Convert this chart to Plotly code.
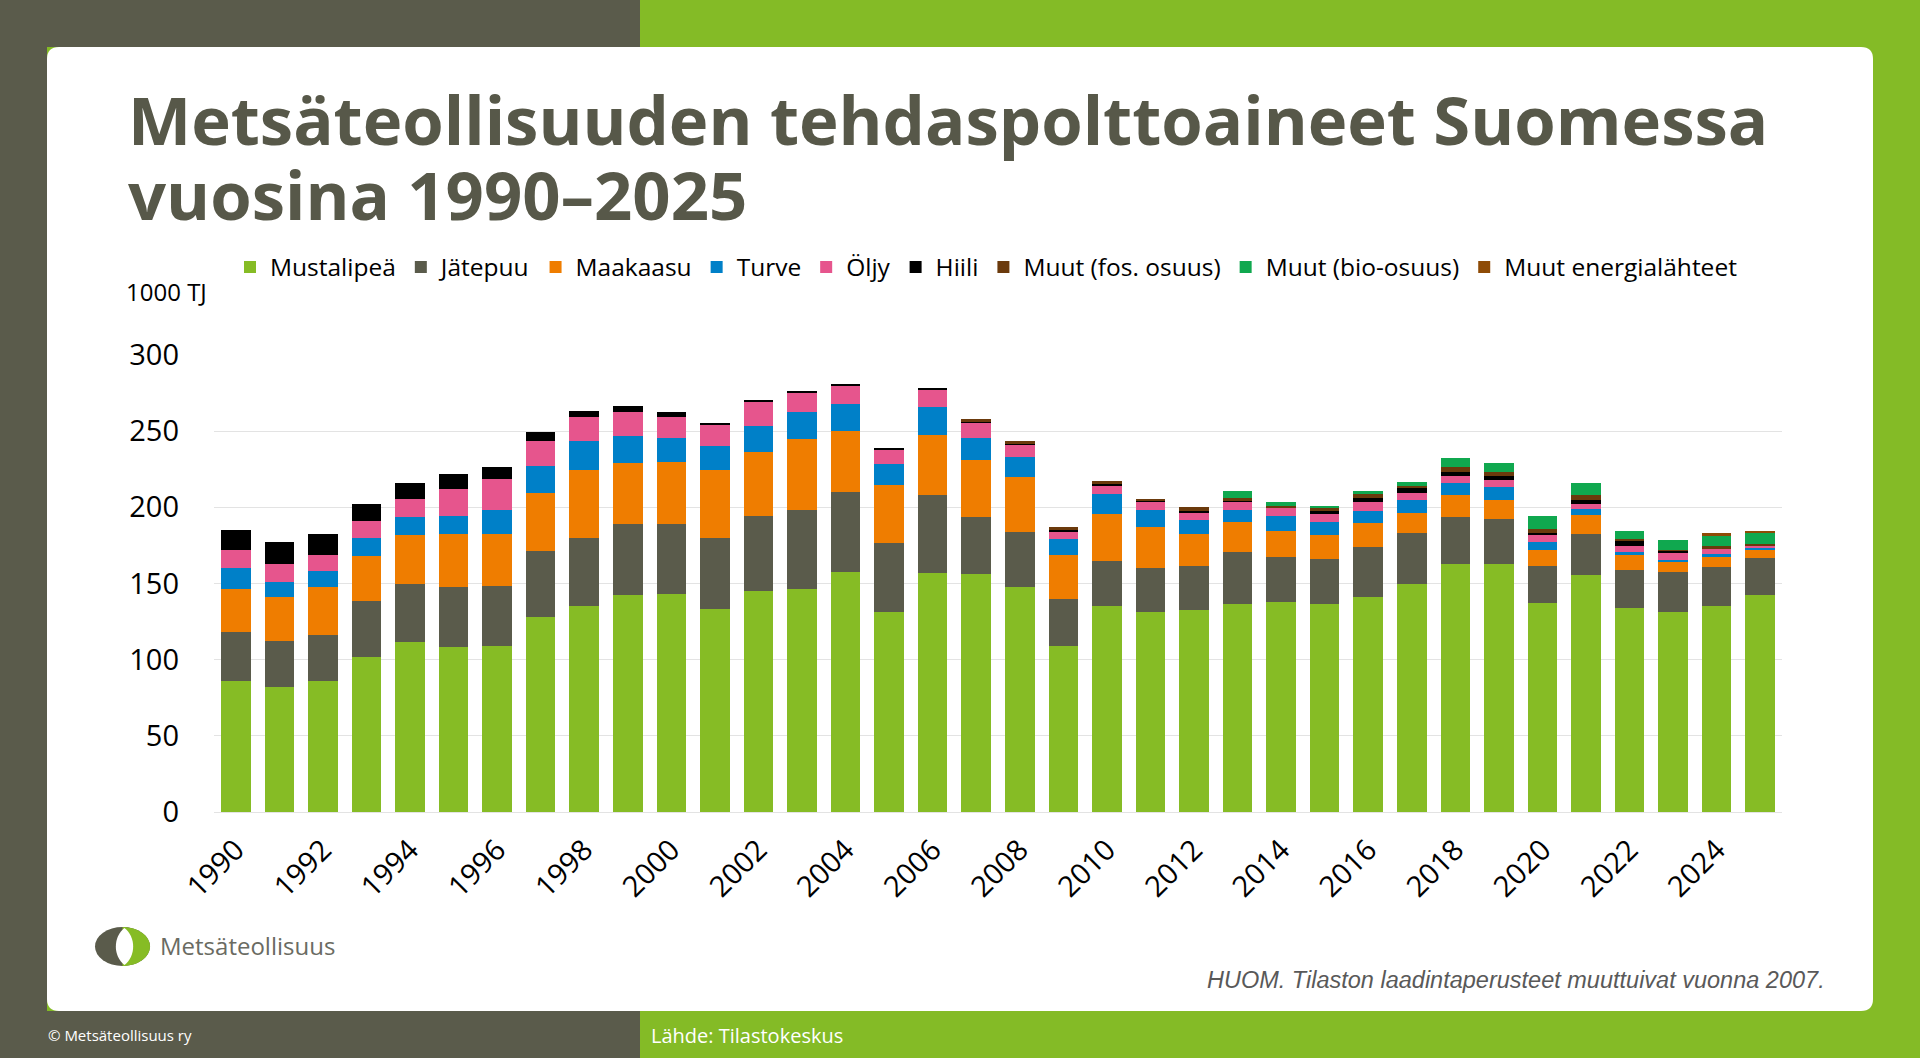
import plotly.graph_objects as go

# ── data (1000 TJ) ─────────────────────────────────────────────────────
YEARS = [str(y) for y in range(1990, 2026)]

MUSTALIPEA = [86.1, 82.2, 86.1, 101.8, 111.6, 108.4, 109.2, 128.2, 135.4, 142.4,
              143.0, 133.2, 145.0, 146.3, 157.4, 131.2, 156.7, 156.1, 147.6, 109.0,
              135.2, 131.2, 132.5, 136.5, 137.8, 136.5, 141.3, 149.6, 162.6, 162.6,
              137.1, 155.4, 133.9, 131.2, 135.2, 142.4]
JATEPUU = [32.3, 30.1, 30.1, 36.6, 38.4, 39.2, 39.0, 42.9, 44.7, 46.4,
           45.8, 46.9, 49.0, 52.1, 52.8, 45.2, 51.7, 37.3, 36.0, 30.7,
           29.4, 28.8, 28.8, 34.0, 29.4, 29.4, 32.5, 33.3, 31.2, 29.9,
           24.2, 27.3, 24.8, 26.2, 25.5, 24.2]
MAAKAASU = [28.3, 28.8, 31.4, 29.9, 32.0, 35.1, 34.5, 38.4, 44.4, 40.5,
            41.2, 44.4, 42.5, 46.6, 40.1, 38.1, 39.3, 37.9, 36.6, 28.8,
            30.7, 26.8, 21.0, 19.8, 17.0, 15.7, 15.7, 13.7, 14.0, 12.6,
            10.5, 12.0, 9.8, 6.5, 6.5, 5.8]
TURVE = [13.3, 9.8, 10.5, 11.3, 11.4, 11.3, 15.3, 17.9, 19.2, 17.5,
         15.7, 16.0, 17.0, 17.9, 17.6, 14.2, 18.3, 14.4, 12.6, 10.5,
         13.3, 11.4, 9.3, 7.9, 9.8, 8.5, 7.8, 7.9, 8.5, 8.5,
         5.2, 3.9, 2.0, 1.6, 2.0, 0.7]
OLJY = [11.8, 11.7, 10.4, 11.2, 12.4, 18.3, 20.9, 16.3, 15.7, 15.9,
        13.7, 13.9, 16.0, 12.4, 12.0, 9.4, 11.3, 10.0, 8.5, 5.4,
        5.9, 5.9, 5.3, 5.9, 5.9, 5.9, 5.9, 5.2, 4.5, 4.6,
        4.6, 3.9, 4.3, 4.5, 3.5, 1.7]
HIILI = [13.5, 14.4, 13.8, 11.1, 10.5, 9.9, 7.8, 5.9, 4.0, 3.7,
         3.3, 1.1, 0.8, 0.5, 1.1, 1.1, 0.4, 0.4, 0.5, 0.4,
         1.0, 0.3, 0.4, 0.3, 0.0, 1.3, 3.2, 2.9, 2.2, 2.2,
         1.5, 2.6, 3.1, 1.4, 0.6, 0.3]
MUUT_FOS = [0] * 17 + [1.8, 1.9, 2.0, 2.1, 1.4, 2.6, 1.8, 0.7, 2.0, 2.2,
                       1.7, 3.3, 3.1, 2.9, 3.3, 1.1, 0.8, 1.1, 0.9]
MUUT_BIO = [0] * 23 + [4.2, 3.2, 1.9, 1.8, 2.6, 5.9, 5.8, 8.0, 7.9, 5.2,
                       6.1, 6.5, 7.2]
MUUT_MUU = [0] * 34 + [2.0, 0.7]

SERIES = [
    ("Mustalipeä", MUSTALIPEA, "#86BC25"),
    ("Jätepuu", JATEPUU, "#5A5B4B"),
    ("Maakaasu", MAAKAASU, "#EF7D00"),
    ("Turve", TURVE, "#0080C8"),
    ("Öljy", OLJY, "#E6558D"),
    ("Hiili", HIILI, "#000000"),
    ("Muut (fos. osuus)", MUUT_FOS, "#6B3A0C"),
    ("Muut (bio-osuus)", MUUT_BIO, "#10A84F"),
    ("Muut energialähteet", MUUT_MUU, "#8E4B06"),
]

W, H = 1920, 1058
DARK = "#5A5B4B"
GREEN = "#84BB26"
FONT = "Open Sans"


def px(x):
    return x / W


def py(y):
    return 1 - y / H


def rect(x0, y0, x1, y1, color):
    return dict(type="rect", xref="paper", yref="paper", layer="below",
                x0=px(x0), x1=px(x1), y0=py(y1), y1=py(y0),
                fillcolor=color, line=dict(width=0))


def rounded(x0, y0, x1, y1, r, color):
    pts = [
        f"M{px(x0 + r)},{py(y0)}",
        f"L{px(x1 - r)},{py(y0)}",
        f"Q{px(x1)},{py(y0)} {px(x1)},{py(y0 + r)}",
        f"L{px(x1)},{py(y1 - r)}",
        f"Q{px(x1)},{py(y1)} {px(x1 - r)},{py(y1)}",
        f"L{px(x0 + r)},{py(y1)}",
        f"Q{px(x0)},{py(y1)} {px(x0)},{py(y1 - r)}",
        f"L{px(x0)},{py(y0 + r)}",
        f"Q{px(x0)},{py(y0)} {px(x0 + r)},{py(y0)}",
        "Z",
    ]
    return dict(type="path", xref="paper", yref="paper", layer="below",
                path=" ".join(pts), fillcolor=color, line=dict(width=0))


def logo_shapes(cx, cy, rx, ry):
    k = 0.5523
    shapes = [dict(type="circle", xref="paper", yref="paper", layer="below",
                   x0=px(cx - rx), x1=px(cx + rx), y0=py(cy + ry), y1=py(cy - ry),
                   fillcolor=DARK, line=dict(width=0))]
    # green right half
    right = (f"M{px(cx)},{py(cy - ry)} "
             f"C{px(cx + k * rx)},{py(cy - ry)} {px(cx + rx)},{py(cy - k * ry)} {px(cx + rx)},{py(cy)} "
             f"C{px(cx + rx)},{py(cy + k * ry)} {px(cx + k * rx)},{py(cy + ry)} {px(cx)},{py(cy + ry)} Z")
    shapes.append(dict(type="path", xref="paper", yref="paper", layer="below",
                       path=right, fillcolor="#86BC25", line=dict(width=0)))
    # white lens
    b = rx * 0.42
    lens = (f"M{px(cx + 2)},{py(cy - ry + 1)} "
            f"C{px(cx + 2 + b)},{py(cy - ry * 0.5)} {px(cx + 2 + b)},{py(cy + ry * 0.5)} {px(cx + 2)},{py(cy + ry - 1)} "
            f"C{px(cx + 2 - b)},{py(cy + ry * 0.5)} {px(cx + 2 - b)},{py(cy - ry * 0.5)} {px(cx + 2)},{py(cy - ry + 1)} Z")
    shapes.append(dict(type="path", xref="paper", yref="paper", layer="below",
                       path=lens, fillcolor="white", line=dict(width=0)))
    return shapes


fig = go.Figure()
for name, vals, color in SERIES:
    fig.add_trace(go.Bar(
        x=YEARS, y=[v if v else None for v in vals], name=name,
        marker=dict(color=color, line=dict(width=0)),
    ))

shapes = [
    rect(0, 0, 640, 47, DARK),
    rect(0, 0, 47, H, DARK),
    rect(0, 1011, 640, H, DARK),
    rounded(47, 47, 1873, 1011, 12, "white"),
]
shapes += logo_shapes(122.5, 946.5, 27.5, 19.5)

annotations = [
    dict(text="<b>Metsäteollisuuden tehdaspolttoaineet Suomessa</b>",
         x=px(126), y=py(119), xanchor="left", yanchor="middle",
         font=dict(family=FONT, size=67, color="#575849")),
    dict(text="<b>vuosina 1990–2025</b>",
         x=px(126), y=py(194), xanchor="left", yanchor="middle",
         font=dict(family=FONT, size=67, color="#575849")),
    dict(text="1000 TJ", x=px(124), y=py(291), xanchor="left", yanchor="middle",
         font=dict(family=FONT, size=24, color="black")),
    dict(text="<i>HUOM. Tilaston laadintaperusteet muuttuivat vuonna 2007.</i>",
         x=px(1827), y=py(980), xanchor="right", yanchor="middle",
         font=dict(family="Liberation Sans", size=23.5, color="#595959")),
    dict(text="Metsäteollisuus", x=px(158), y=py(945), xanchor="left", yanchor="middle",
         font=dict(family=FONT, size=24, color="#6A6B62")),
    dict(text="© Metsäteollisuus ry", x=px(46), y=py(1035), xanchor="left", yanchor="middle",
         font=dict(family=FONT, size=15, color="white")),
    dict(text="Lähde: Tilastokeskus", x=px(649), y=py(1035), xanchor="left", yanchor="middle",
         font=dict(family=FONT, size=20, color="white")),
]
for a in annotations:
    a.update(xref="paper", yref="paper", showarrow=False)

fig.update_layout(
    width=W, height=H,
    barmode="stack", bargap=0.32,
    paper_bgcolor=GREEN, plot_bgcolor="rgba(0,0,0,0)",
    margin=dict(l=0, r=0, t=0, b=0, pad=0, autoexpand=False),
    shapes=shapes, annotations=annotations,
    font=dict(family=FONT, color="black"),
    legend=dict(orientation="h", x=px(230), y=py(267), xanchor="left", yanchor="middle",
                font=dict(family=FONT, size=24.5, color="black"),
                bgcolor="rgba(0,0,0,0)", traceorder="normal",
                itemwidth=30, tracegroupgap=0),
    showlegend=True,
)
fig.update_xaxes(
    domain=[px(214), px(1782)], automargin=False,
    tickvals=YEARS[::2], tickangle=-45,
    tickfont=dict(family=FONT, size=29, color="black"),
    showgrid=False, showline=False, ticks="", ticklabelstandoff=14,
)
fig.update_yaxes(
    domain=[py(812), py(355)], automargin=False,
    range=[0, 300], dtick=50,
    tickfont=dict(family=FONT, size=29, color="black"),
    showgrid=True, gridcolor="#E3E3E3", gridwidth=1,
    zeroline=True, zerolinecolor="#E3E3E3", zerolinewidth=1,
    showline=False, ticks="", ticklabelstandoff=34,
)

fig.write_html("out.html", config={"displayModeBar": False},
               post_script="document.body.style.margin='0px';")
